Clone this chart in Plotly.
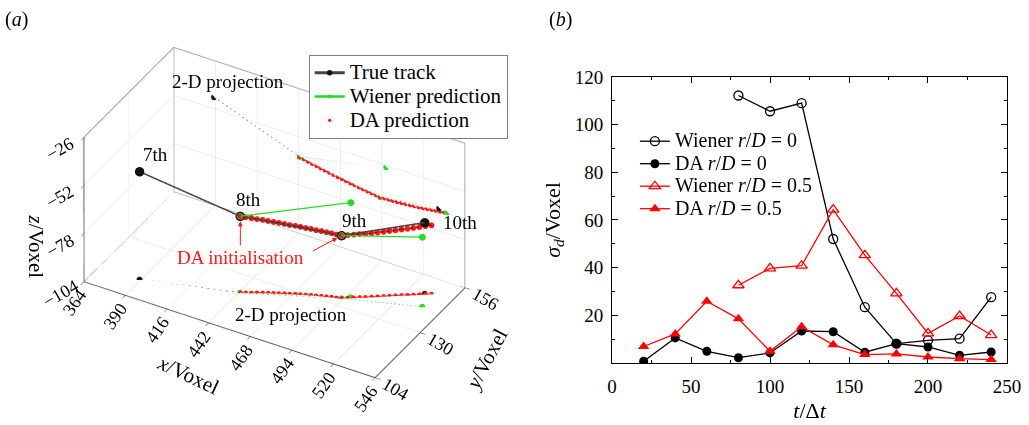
import plotly.graph_objects as go

SERIF = "Liberation Serif"

# ---------------- panel (b): prediction deviation vs time ----------------
t_da = [20, 40, 60, 80, 100, 120, 140, 160, 180, 200, 220, 240]
t_wiener = [80, 100, 120, 140, 160, 180, 200, 220, 240]
wiener_r0 = [112.2, 105.6, 109.0, 52.0, 23.4, 8.1, 9.5, 10.2, 27.6]
da_r0 = [0.7, 10.5, 4.9, 2.2, 4.2, 13.4, 13.1, 4.5, 8.1, 6.7, 3.2, 4.6]
wiener_r05 = [32.6, 39.7, 40.8, 64.3, 45.2, 29.2, 12.4, 19.7, 11.7]
da_r05 = [6.9, 12.2, 25.9, 18.5, 4.9, 15.2, 7.6, 3.5, 3.8, 2.5, 1.8, 1.4]

# ---------------- panel (a): particle track in voxel space ----------------
track_labels = ["7th", "8th", "9th", "10th"]
track_x = [389.1, 442.6, 492.9, 529.8]
track_y = [112.9, 121.6, 133.7, 147.6]
track_z = [-45.7, -62.7, -70.1, -65.6]

# Wiener predictions: 9th predicted from 8th, 10th predicted from 9th
wiener_x = [442.6, 496.7, None, 492.9, 534.8]
wiener_y = [121.6, 135.5, None, 133.7, 141.6]
wiener_z = [-62.7, -52.9, None, -70.1, -66.4]

# DA predicted trajectory (initialised at 8th, then re-initialised at 9th)
da_x = [442.6, 445.2, 447.9, 450.5, 453.2, 455.8, 458.5, 461.1, 463.8, 466.4,
        469.1, 471.7, 474.4, 477.0, 479.7, 482.3, 485.0, 487.6, 490.3, 492.9,
        495.6, 498.3, 500.9, 503.6, 506.3, 509.0, 511.7, 514.3, 517.0, 519.7,
        522.4, 525.1, 527.7, 530.4, 533.1]
da_y = [121.6, 122.4, 123.2, 124.0, 124.8, 125.5, 126.2, 126.9, 127.6, 128.2,
        128.9, 129.5, 130.1, 130.7, 131.2, 131.8, 132.3, 132.8, 133.2, 133.7,
        134.7, 135.7, 136.7, 137.6, 138.6, 139.6, 140.6, 141.6, 142.6, 143.6,
        144.5, 145.5, 146.5, 147.5, 148.5]
da_z = [-62.7, -63.2, -63.7, -64.2, -64.6, -65.1, -65.5, -65.9, -66.4, -66.8,
        -67.1, -67.5, -67.9, -68.2, -68.6, -68.9, -69.2, -69.5, -69.8, -70.1,
        -70.0, -69.9, -69.8, -69.7, -69.5, -69.3, -69.1, -68.9, -68.7, -68.4,
        -68.1, -67.8, -67.5, -67.2, -66.9]

x_range = [364, 546]
y_range = [104, 156]
z_range = [-104, -26]
x_ticks = [364, 390, 416, 442, 468, 494, 520, 546]
y_ticks = [104, 130, 156]
z_ticks = [-104, -78, -52, -26]

BLACK = "#111111"
GREEN = "#22dd22"
RED = "#ff1a1a"
GREY = "#8a8a8a"

fig = go.Figure()

x0, x1 = x_range
y0, y1 = y_range
z0, z1 = z_range
floor = z0
wall = y1


def on_floor(zs):
    return [None if v is None else floor for v in zs]


def on_wall(ys):
    return [None if v is None else wall for v in ys]


# frame edges of the back panels (the axis lines themselves come from the scene)
frame_x = [x0, x0, x1, x1, None, x0, x0, None, x0, x0, x1]
frame_y = [y0, y1, y1, y1, None, y1, y1, None, y0, y1, y1]
frame_z = [z0, z0, z0, z1, None, z0, z1, None, z1, z1, z1]
fig.add_trace(go.Scatter3d(
    x=frame_x, y=frame_y, z=frame_z, mode="lines", connectgaps=False,
    line=dict(color="#9a9a9a", width=2), showlegend=False, hoverinfo="skip"))

# projections on the back wall and the floor
for px, py, pz in [
    (track_x, on_wall(track_y), track_z),
    (track_x, track_y, on_floor(track_z)),
]:
    fig.add_trace(go.Scatter3d(
        x=px, y=py, z=pz, mode="lines+markers",
        line=dict(color=GREY, width=2, dash="dash"),
        marker=dict(color=BLACK, size=3.5),
        showlegend=False, hoverinfo="skip"))

for px, py, pz in [
    (wiener_x, on_wall(wiener_y), wiener_z),
    (wiener_x, wiener_y, on_floor(wiener_z)),
]:
    fig.add_trace(go.Scatter3d(
        x=px, y=py, z=pz, mode="lines+markers", connectgaps=False,
        line=dict(color="#66ee66", width=2, dash="dash"),
        marker=dict(color=GREEN, size=3.5),
        showlegend=False, hoverinfo="skip"))

for px, py, pz, lw in [
    (da_x, on_wall(da_y), da_z, 3),
    (da_x, da_y, on_floor(da_z), 1.5),
]:
    fig.add_trace(go.Scatter3d(
        x=px, y=py, z=pz, mode="lines+markers",
        line=dict(color=RED, width=lw),
        marker=dict(color=RED, size=2.6),
        showlegend=False, hoverinfo="skip"))

# 3-D tracks
fig.add_trace(go.Scatter3d(
    x=track_x, y=track_y, z=track_z, mode="lines+markers",
    name="True track", legend="legend",
    line=dict(color="#444444", width=3),
    marker=dict(color=BLACK, size=5.5)))
fig.add_trace(go.Scatter3d(
    x=wiener_x, y=wiener_y, z=wiener_z, mode="lines+markers",
    name="Wiener prediction", legend="legend", connectgaps=False,
    line=dict(color=GREEN, width=2.5),
    marker=dict(color=GREEN, size=4)))
fig.add_trace(go.Scatter3d(
    x=da_x, y=da_y, z=da_z, mode="lines",
    line=dict(color="#8b0000", width=2.5),
    showlegend=False, hoverinfo="skip"))
fig.add_trace(go.Scatter3d(
    x=da_x, y=da_y, z=da_z, mode="markers",
    name="DA prediction", legend="legend",
    marker=dict(color=RED, size=3.4)))

# panel (b) curves
LEG_B = '<span style="font-size:20px">{}</span>'
fig.add_trace(go.Scatter(
    x=t_wiener, y=wiener_r0, mode="lines+markers", legend="legend2",
    name=LEG_B.format("Wiener <i>r</i>/<i>D</i> = 0"),
    line=dict(color="black", width=1.3),
    marker=dict(symbol="circle-open", size=9, color="black", line=dict(width=1.3)),
    xaxis="x", yaxis="y"))
fig.add_trace(go.Scatter(
    x=t_da, y=da_r0, mode="lines+markers", legend="legend2",
    name=LEG_B.format("DA <i>r</i>/<i>D</i> = 0"),
    line=dict(color="black", width=1.3),
    marker=dict(symbol="circle", size=9, color="black"),
    xaxis="x", yaxis="y"))
fig.add_trace(go.Scatter(
    x=t_wiener, y=wiener_r05, mode="lines+markers", legend="legend2",
    name=LEG_B.format("Wiener <i>r</i>/<i>D</i> = 0.5"),
    line=dict(color="red", width=1.3),
    marker=dict(symbol="triangle-up-open", size=10, color="red", line=dict(width=1.3)),
    xaxis="x", yaxis="y"))
fig.add_trace(go.Scatter(
    x=t_da, y=da_r05, mode="lines+markers", legend="legend2",
    name=LEG_B.format("DA <i>r</i>/<i>D</i> = 0.5"),
    line=dict(color="red", width=1.3),
    marker=dict(symbol="triangle-up", size=10, color="red"),
    xaxis="x", yaxis="y"))

# legend text of panel (a) is drawn larger than the row spacing font
for tr in fig.data:
    if tr.legend == "legend" and tr.showlegend is not False:
        tr.name = '<span style="font-size:21px">{}</span>'.format(tr.name)

axis3d = dict(
    showbackground=True, backgroundcolor="white",
    gridcolor="#dcdcdc", gridwidth=1,
    showline=True, linecolor="#444444", linewidth=2,
    ticks="outside", tickcolor="#333333", ticklen=6,
    showticklabels=False, title=dict(text=""),
    zeroline=False, showspikes=False,
)

# rotated tick labels and axis titles of the 3-D box, written as scene text
TICK_FONT = dict(family=SERIF, size=18, color="black")
TITLE_FONT = dict(family=SERIF, size=21, color="black")
scene_text = []
for v in x_ticks:
    scene_text.append(dict(x=v, y=y0, z=z0, text=str(v), textangle=-55,
                           xshift=-10, yshift=-21, font=TICK_FONT))
for v in y_ticks:
    scene_text.append(dict(x=x1, y=v, z=z0, text=str(v), textangle=30,
                           xshift=20, yshift=-11, font=TICK_FONT))
for v in z_ticks:
    scene_text.append(dict(x=x0, y=y0, z=v, text="\u2212{}".format(abs(v)),
                           textangle=-30, xshift=-24, yshift=-12, font=TICK_FONT))
scene_text += [
    dict(x=(x0 + x1) / 2, y=y0, z=z0, text="<i>x</i>/Voxel", textangle=25,
         xshift=-41, yshift=-45, font=TITLE_FONT),
    dict(x=x1, y=(y0 + y1) / 2, z=z0, text="<i>y</i>/Voxel", textangle=-62,
         xshift=66, yshift=-26, font=TITLE_FONT),
    dict(x=x0, y=y0, z=(z0 + z1) / 2, text="<i>z</i>/Voxel", textangle=90,
         xshift=-48, yshift=-37, font=TITLE_FONT),
]
for a in scene_text:
    a["showarrow"] = False

label_font = dict(family=SERIF, size=19, color="black")
scene_text += [
    dict(x=track_x[i], y=track_y[i], z=track_z[i], text=track_labels[i],
         showarrow=False, xshift=dx, yshift=dy, font=label_font)
    for i, (dx, dy) in enumerate([(16, 17), (8, 17), (13, 15), (35, 0)])
]
scene_text += [
    dict(x=track_x[0], y=wall, z=track_z[0], text="2-D projection",
         showarrow=False, xshift=14, yshift=16, font=label_font),
    dict(x=track_x[2], y=track_y[2], z=floor, text="2-D projection",
         showarrow=False, xshift=-51, yshift=-16, font=label_font),
    dict(x=track_x[1], y=track_y[1], z=track_z[1], text="DA initialisation",
         showarrow=True, ax=0, ay=41, arrowcolor=RED, arrowwidth=1,
         arrowhead=2, arrowsize=1, standoff=5,
         font=dict(family=SERIF, size=19, color=RED)),
    dict(x=track_x[2], y=track_y[2], z=track_z[2], text=" ",
         showarrow=True, ax=-32, ay=17, arrowcolor=RED, arrowwidth=1,
         arrowhead=2, arrowsize=1, standoff=5,
         font=dict(family=SERIF, size=10, color=RED)),
]

fig.update_layout(
    template="none",
    width=1029, height=425,
    margin=dict(l=0, r=0, t=0, b=0, autoexpand=False),
    paper_bgcolor="white", plot_bgcolor="white",
    font=dict(family=SERIF, size=17, color="black"),
    scene=dict(
        domain=dict(x=[0, 0.534], y=[0, 1]),
        xaxis=dict(axis3d, range=x_range, tickvals=x_ticks),
        yaxis=dict(axis3d, range=y_range, tickvals=y_ticks),
        zaxis=dict(axis3d, range=z_range, tickvals=z_ticks),
        aspectmode="manual",
        aspectratio=dict(x=1.58, y=0.85, z=0.83),
        camera=dict(
            eye=dict(x=1.064, y=-1.853, z=1.498),
            center=dict(x=0, y=0, z=0),
            up=dict(x=0, y=0, z=1),
            projection=dict(type="orthographic"),
        ),
        annotations=scene_text,
    ),
    xaxis=dict(
        domain=[0.5948, 0.9786], range=[0, 250],
        tickvals=[0, 50, 100, 150, 200, 250],
        ticks="inside", ticklen=6, tickwidth=1, tickcolor="black",
        minor=dict(ticks="inside", ticklen=3, dtick=25, tickcolor="black"),
        showline=True, linecolor="black", linewidth=1, mirror="ticks",
        showgrid=False, zeroline=False, automargin=False,
        tickfont=dict(family=SERIF, size=19), ticklabelstandoff=6,
        title=dict(text="<i>t</i>/Δ<i>t</i>", font=dict(family=SERIF, size=22), standoff=6),
        anchor="y",
    ),
    yaxis=dict(
        domain=[0.146, 0.819], range=[0, 120],
        tickvals=[20, 40, 60, 80, 100, 120],
        ticks="inside", ticklen=6, tickwidth=1, tickcolor="black",
        minor=dict(ticks="inside", ticklen=3, dtick=10, tickcolor="black"),
        showline=True, linecolor="black", linewidth=1, mirror="ticks",
        showgrid=False, zeroline=False, automargin=False,
        tickfont=dict(family=SERIF, size=19), ticklabelstandoff=4,
        title=dict(text="<i>σ<sub>d</sub></i>/Voxel", font=dict(family=SERIF, size=22), standoff=8),
        anchor="x",
    ),
    legend=dict(
        x=0.3, y=0.871, xanchor="left", yanchor="top",
        bgcolor="white", bordercolor="#808080", borderwidth=1,
        font=dict(family=SERIF, size=16), tracegroupgap=0,
    ),
    legend2=dict(
        x=0.617, y=0.706, xanchor="left", yanchor="top",
        bgcolor="rgba(0,0,0,0)", borderwidth=0,
        font=dict(family=SERIF, size=15), tracegroupgap=0,
    ),
    annotations=[
        dict(xref="paper", yref="paper", x=0.003, y=0.985, text="(<i>a</i>)",
             showarrow=False, xanchor="left", yanchor="top",
             font=dict(family=SERIF, size=20)),
        dict(xref="paper", yref="paper", x=0.532, y=0.985, text="(<i>b</i>)",
             showarrow=False, xanchor="left", yanchor="top",
             font=dict(family=SERIF, size=20)),
    ],
)

fig.write_html("out.html")
